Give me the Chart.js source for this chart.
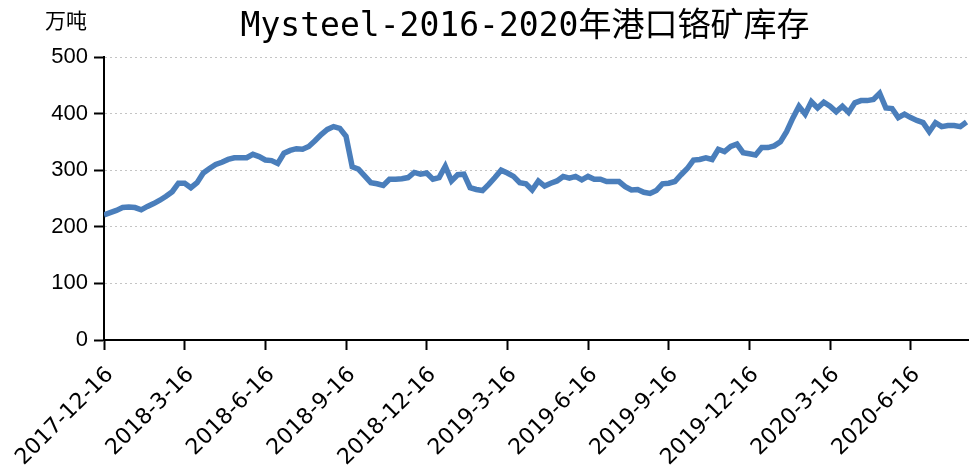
<!DOCTYPE html>
<html><head><meta charset="utf-8">
<script src="https://cdn.jsdelivr.net/npm/chart.js@4/dist/chart.umd.min.js"></script>
<style>html,body{margin:0;padding:0;background:#fff;}canvas{display:block}</style>
</head><body>
<canvas id="c" width="969" height="475"></canvas>
<script>
const chartTitle = 'Mysteel-2016-2020年港口铬矿库存';
const unitLabel = '万吨';
const tickLabels = ['2017-12-16','2018-3-16','2018-6-16','2018-9-16','2018-12-16','2019-3-16','2019-6-16','2019-9-16','2019-12-16','2020-3-16','2020-6-16'];
const tickWeeks = [0,13,26,39,52,65,78,91,104,117,130];
const lastWeek = 139.4;
const inventory = [
  221,225,229,234,235,234,230,236,241,247,
  254,262,277,277,269,278,295,303,310,314,
  319,322,322,322,328,324,318,317,312,330,
  335,338,337,342,352,363,372,377,374,360,
  306,302,290,278,276,273,284,284,285,287,
  296,293,295,284,287,307,281,292,293,269,
  266,264,275,287,300,295,289,278,276,265,
  281,272,277,281,289,286,289,283,289,284,
  284,280,280,280,271,265,266,261,259,264,
  276,277,280,292,303,318,319,322,319,337,
  333,342,346,331,329,327,340,340,343,350,
  368,392,413,399,421,410,420,413,403,413,
  402,419,423,423,425,436,410,409,393,399,
  393,388,384,368,384,377,379,379,377,385
];

const textPlugin = {
  id: 'texts',
  afterDraw(chart) {
    const ctx = chart.ctx;
    ctx.save();
    ctx.fillStyle = '#000';
    ctx.font = '33px "DejaVu Sans Mono", "Noto Sans CJK SC"';
    ctx.textAlign = 'center';
    ctx.textBaseline = 'alphabetic';
    ctx.fillText(chartTitle, 525, 36);
    ctx.font = '21px "Noto Sans CJK SC"';
    ctx.textAlign = 'left';
    ctx.fillText(unitLabel, 45, 28);
    ctx.restore();
  }
};

new Chart(document.getElementById('c'), {
  type: 'line',
  data: {
    datasets: [{
      data: inventory.map((v, i) => ({x: i, y: v})),
      borderColor: '#4a7ebb',
      borderWidth: 5.5,
      pointRadius: 0,
      tension: 0,
      fill: false
    }]
  },
  options: {
    responsive: false,
    animation: false,
    devicePixelRatio: 1,
    layout: {padding: {top: 57, left: 0, right: 0, bottom: 0}},
    plugins: {legend: {display: false}, tooltip: {enabled: false}, title: {display: false}},
    scales: {
      x: {
        type: 'linear',
        min: 0,
        max: lastWeek,
        afterBuildTicks: s => { s.ticks = tickWeeks.map(v => ({value: v})); },
        afterFit: s => { s.height = 135; },
        ticks: {
          autoSkip: false,
          minRotation: 45,
          maxRotation: 45,
          color: '#000',
          padding: 12,
          labelOffset: 6,
          font: {family: '"DejaVu Sans"', size: 22},
          callback: v => tickLabels[tickWeeks.indexOf(v)]
        },
        grid: {drawOnChartArea: false, tickLength: 10, tickColor: '#000', tickWidth: 2},
        border: {color: '#000', width: 2}
      },
      y: {
        min: 0,
        max: 500,
        afterFit: s => { s.width = 104; },
        ticks: {
          stepSize: 100,
          color: '#000',
          padding: 6,
          font: {family: '"Liberation Sans"', size: 22}
        },
        grid: {
          color: c => (c.tick && c.tick.value === 0) ? 'rgba(0,0,0,0)' : '#c4c4c4',
          lineWidth: 1,
          tickLength: 10,
          tickColor: '#000',
          tickWidth: 2,
          tickBorderDash: []
        },
        border: {color: '#000', width: 2, dash: [2, 3]}
      }
    }
  },
  plugins: [textPlugin]
});
</script>
</body></html>
